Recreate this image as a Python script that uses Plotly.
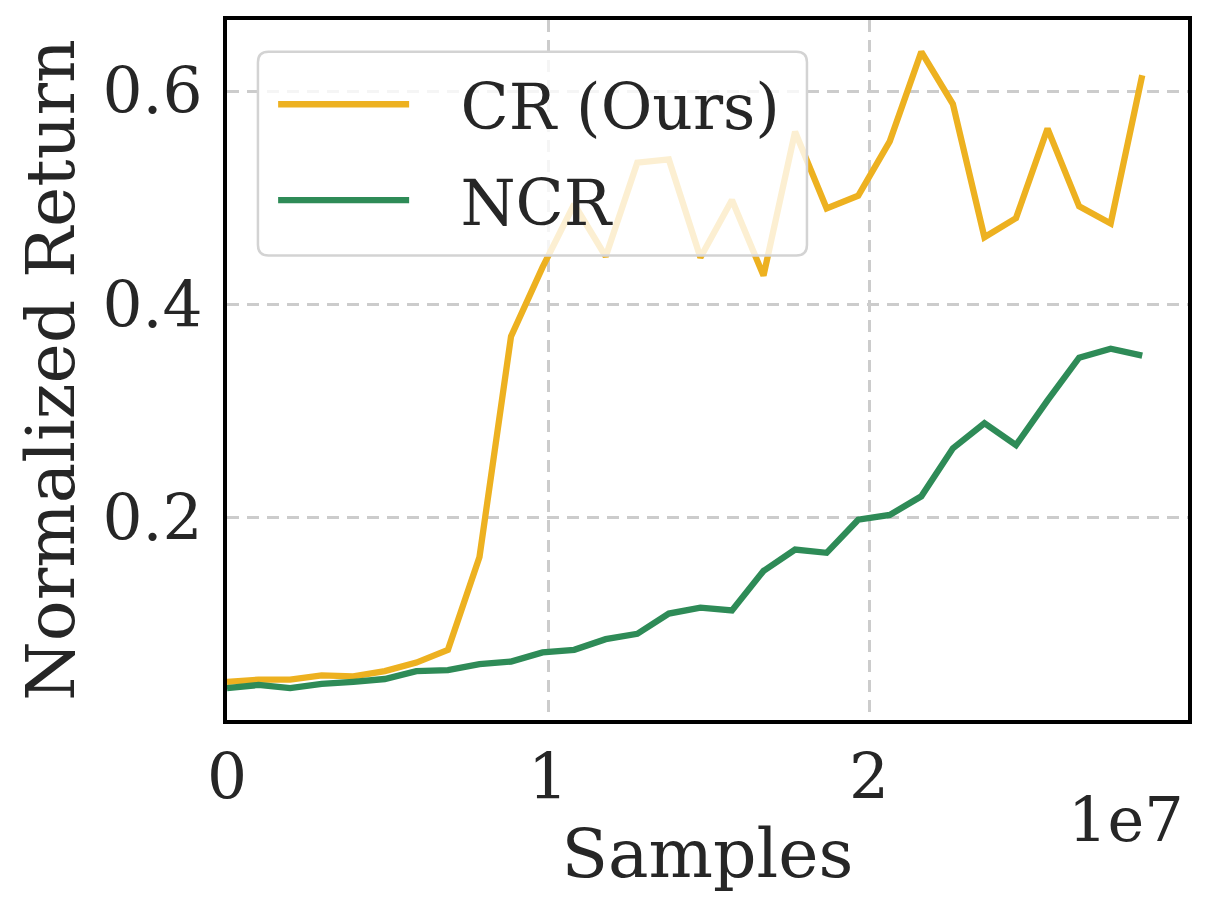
import plotly.graph_objects as go

step = 983040
n_points = 30
samples = [i * step for i in range(n_points)]

cr_ours = [0.046, 0.048, 0.048, 0.052, 0.051, 0.056, 0.064, 0.076, 0.163, 0.370,
           0.435, 0.494, 0.445, 0.533, 0.536, 0.444, 0.498, 0.427, 0.562, 0.490,
           0.502, 0.553, 0.637, 0.588, 0.463, 0.481, 0.565, 0.492, 0.476, 0.615]
ncr = [0.040, 0.043, 0.040, 0.044, 0.046, 0.0486, 0.056, 0.057, 0.0626, 0.065,
       0.0735, 0.076, 0.086, 0.091, 0.110, 0.1155, 0.113, 0.150, 0.170, 0.167,
       0.198, 0.2025, 0.220, 0.265, 0.2886, 0.268, 0.310, 0.350, 0.3585, 0.352]

series_names = ["CR (Ours)", "NCR"]
series_colors = ["#EDB120", "#2E8B57"]

x_tickvals = [0, 1e7, 2e7]
x_ticktext = ["0", "1", "2"]
y_tickvals = [0.2, 0.4, 0.6]
y_ticktext = ["0.2", "0.4", "0.6"]

FONT = "DejaVu Serif"
TXT = "#262626"
NBSP = "\u00a0"

fig = go.Figure()
for name, ys, col in zip(series_names, [cr_ours, ncr], series_colors):
    fig.add_trace(go.Scatter(x=samples, y=ys, mode="lines", name=NBSP * 2 + "\u200a" + name,
                             legendgroup=name,
                             line=dict(color=col, width=6.3)))

xmax = samples[-1] * 1.05
ymin = min(min(cr_ours), min(ncr))
ymax = max(max(cr_ours), max(ncr))
pad = (ymax - ymin) * 0.05

# legend frame (rounded, semi-transparent like matplotlib's framealpha=0.8)
lx0, lx1, ly0, ly1 = 0.0322, 0.6035, 0.6635, 0.9545
rx, ry = 0.011, 0.015
frame_path = (f"M{lx0+rx},{ly1} L{lx1-rx},{ly1} Q{lx1},{ly1} {lx1},{ly1-ry} "
              f"L{lx1},{ly0+ry} Q{lx1},{ly0} {lx1-rx},{ly0} "
              f"L{lx0+rx},{ly0} Q{lx0},{ly0} {lx0},{ly0+ry} "
              f"L{lx0},{ly1-ry} Q{lx0},{ly1} {lx0+rx},{ly1} Z")

fig.update_layout(
    width=1210, height=910,
    margin=dict(l=227, r=22, t=20, b=190),
    paper_bgcolor="white", plot_bgcolor="white",
    font=dict(family=FONT, color=TXT, size=63),
    showlegend=True,
    legend=dict(x=0.048, y=0.9474, xanchor="left", yanchor="top",
                bgcolor="rgba(0,0,0,0)", borderwidth=0,
                font=dict(family=FONT, size=63, color=TXT),
                itemwidth=131, tracegroupgap=11),
    shapes=[dict(type="path", path=frame_path, xref="paper", yref="paper",
                 fillcolor="rgba(255,255,255,0.8)", line=dict(color="#d3d3d3", width=2.5),
                 layer="above")],
    xaxis=dict(range=[0, xmax], tickvals=x_tickvals, ticktext=x_ticktext,
               showgrid=True, gridcolor="#cccccc", gridwidth=2.5, griddash="12px,8px",
               showline=True, linecolor="black", linewidth=3.5, mirror=True,
               zeroline=False, ticks="",
               tickfont=dict(family=FONT, size=63, color=TXT),
               title=dict(text="Samples", font=dict(family=FONT, size=68, color=TXT), standoff=0)),
    yaxis=dict(range=[ymin - pad, ymax + pad], tickvals=y_tickvals, ticktext=y_ticktext,
               showgrid=True, gridcolor="#cccccc", gridwidth=2.5, griddash="12px,8px",
               showline=True, linecolor="black", linewidth=3.5, mirror=True,
               zeroline=False, ticks="outside", ticklen=8, tickcolor="rgba(0,0,0,0)",
               tickfont=dict(family=FONT, size=63, color=TXT),
               title=dict(text="Normalized Return", font=dict(family=FONT, size=68, color=TXT), standoff=7)),
)

fig.add_annotation(text="1e7", xref="paper", yref="paper", x=0.998, y=-0.142,
                   xanchor="right", yanchor="middle", showarrow=False,
                   font=dict(family=FONT, size=62, color=TXT))

fig.write_html("out.html", config={"displayModeBar": False},
               post_script="document.body.style.margin='0';")
